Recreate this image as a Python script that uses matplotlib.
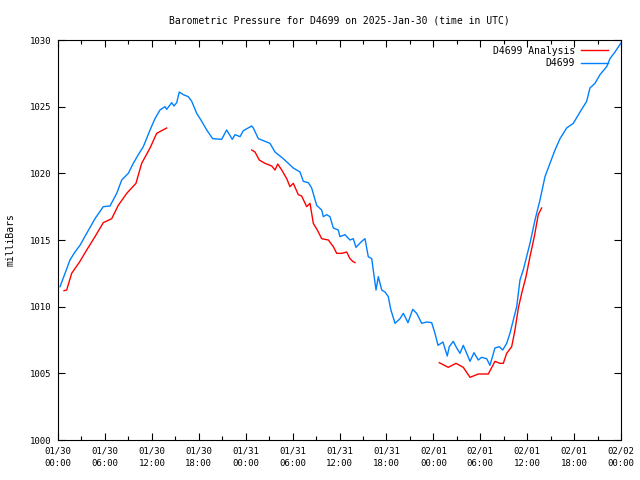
import matplotlib
matplotlib.use('Agg')
import matplotlib.pyplot as plt
import matplotlib.dates as mdates
import numpy as np
import pandas as pd

# hours since 2025-01-30 00:00 UTC and pressure in mbar
start = pd.Timestamp('2025-01-30 00:00')

obs_hours = [
    0.26, 0.9, 1.53, 2.17, 2.81, 3.67, 4.73, 5.79, 6.65, 7.51, 8.15, 8.99,
    9.63, 10.27, 10.91, 11.77, 12.4, 13.04, 13.68, 13.9, 14.54, 14.83, 15.18,
    15.51, 16.02, 16.66, 17.1, 17.74, 18.38, 19.02, 19.78, 20.93, 21.57,
    22.29, 22.64, 23.28, 23.7, 24.77, 24.98, 25.62, 26.05, 27.11, 27.75,
    28.81, 29.45, 30.09, 30.95, 31.37, 32.01, 32.44, 33.08, 33.72, 33.93,
    34.36, 34.78, 35.21, 35.84, 36.06, 36.7, 37.34, 37.76, 38.11, 38.84,
    39.26, 39.68, 40.12, 40.67, 40.96, 41.4, 41.82, 42.24, 42.55, 43.1,
    43.74, 44.16, 44.76, 45.36, 45.87, 46.51, 47.15, 47.79, 48.21, 48.6,
    49.23, 49.78, 50.04, 50.55, 50.99, 51.41, 51.83, 52.27, 52.69, 53.2,
    53.75, 54.18, 54.82, 55.24, 55.88, 56.43, 56.87, 57.38, 57.8, 58.23,
    58.66, 59.08, 59.5, 60.36, 61.0, 61.64, 62.28, 62.92, 63.56, 64.2,
    65.05, 65.9, 66.76, 67.61, 68.03, 68.67, 69.31, 70.17, 70.59, 71.23,
    71.96,
]
obs_mb = [
    1011.5, 1012.5, 1013.5, 1014.1, 1014.6, 1015.5, 1016.6, 1017.5, 1017.55,
    1018.5, 1019.5, 1020.0, 1020.75, 1021.4, 1022.0, 1023.25, 1024.1,
    1024.75, 1025.0, 1024.8, 1025.3, 1025.05, 1025.3, 1026.1, 1025.9,
    1025.75, 1025.4, 1024.5, 1023.9, 1023.25, 1022.6, 1022.55, 1023.25,
    1022.55, 1022.9, 1022.75, 1023.2, 1023.55, 1023.4, 1022.6, 1022.5,
    1022.25, 1021.6, 1021.1, 1020.75, 1020.4, 1020.1, 1019.4, 1019.3,
    1018.9, 1017.6, 1017.25, 1016.75, 1016.9, 1016.75, 1015.9, 1015.75,
    1015.25, 1015.4, 1015.0, 1015.1, 1014.45, 1014.9, 1015.1, 1013.75,
    1013.6, 1011.25, 1012.25, 1011.25, 1011.1, 1010.75, 1009.8, 1008.75,
    1009.1, 1009.5, 1008.8, 1009.8, 1009.5, 1008.75, 1008.85, 1008.8,
    1008.0, 1007.1, 1007.35, 1006.3, 1007.0, 1007.4, 1006.9, 1006.5,
    1007.1, 1006.5, 1005.9, 1006.55, 1006.0, 1006.2, 1006.1, 1005.6,
    1006.9, 1007.0, 1006.75, 1007.25, 1008.0, 1009.0, 1010.0, 1012.0,
    1012.75, 1014.75, 1016.5, 1018.0, 1019.75, 1020.75, 1021.75, 1022.6,
    1023.4, 1023.75, 1024.6, 1025.4, 1026.4, 1026.75, 1027.4, 1028.0,
    1028.6, 1029.1, 1029.75,
]

# analysis has gaps between runs (NaN breaks the line)
ana_hours = [
    0.77, 1.11, 1.75, 2.81, 3.67, 4.73, 5.79, 6.87, 7.71, 8.79, 9.97, 10.7,
    11.77, 12.62, 13.26, 13.9,
    19.0,
    24.77, 25.19, 25.74, 26.47, 27.33, 27.75, 28.1, 28.61, 29.25, 29.67,
    30.09, 30.73, 31.16, 31.8, 32.23, 32.65, 33.16, 33.72, 34.57, 35.21,
    35.64, 36.28, 36.92, 37.34, 37.69, 37.98,
    43.0,
    48.76, 49.91, 50.9, 51.83, 52.69, 53.75, 55.03, 55.88, 56.52, 56.95,
    57.38, 58.02, 58.44, 58.87, 59.3, 59.85, 60.36, 60.91, 61.42, 61.85,
]
ana_mb = [
    1011.2, 1011.25, 1012.5, 1013.4, 1014.25, 1015.25, 1016.3, 1016.6,
    1017.6, 1018.5, 1019.25, 1020.75, 1021.9, 1023.0, 1023.2, 1023.4,
    np.nan,
    1021.75, 1021.6, 1021.0, 1020.75, 1020.55, 1020.25, 1020.7, 1020.25,
    1019.6, 1019.0, 1019.25, 1018.4, 1018.3, 1017.5, 1017.75, 1016.25,
    1015.75, 1015.1, 1015.0, 1014.5, 1014.0, 1014.0, 1014.1, 1013.6,
    1013.4, 1013.3,
    np.nan,
    1005.8, 1005.45, 1005.75, 1005.45, 1004.7, 1004.95, 1004.95, 1005.9,
    1005.75, 1005.75, 1006.5, 1007.0, 1008.25, 1009.9, 1011.0, 1012.25,
    1013.75, 1015.25, 1016.9, 1017.4,
]

obs_t = start + pd.to_timedelta(obs_hours, unit='h')
ana_t = start + pd.to_timedelta(ana_hours, unit='h')

plt.rcParams['font.family'] = 'DejaVu Sans Mono'

fig = plt.figure(figsize=(6.4, 4.8), dpi=100)
ax = fig.add_axes([58 / 640, 40 / 480, 563 / 640, 400 / 480])

ax.plot(ana_t, ana_mb, color='#ff0000', lw=1, label='D4699 Analysis')
ax.plot(obs_t, obs_mb, color='#0080ff', lw=1, label='D4699')

ax.set_xlim(start, start + pd.Timedelta(hours=72))
ax.set_ylim(1000, 1030)
ax.set_yticks(np.arange(1000, 1031, 5))

ax.xaxis.set_major_locator(mdates.HourLocator(byhour=range(0, 24, 6)))
ax.xaxis.set_minor_locator(mdates.HourLocator(byhour=range(0, 24, 3)))
ax.xaxis.set_major_formatter(mdates.DateFormatter('%m/%d\n%H:%M'))

ax.tick_params(which='both', direction='in', top=True, right=True,
               labelsize=6.5, width=0.8, color='black')
ax.tick_params(which='major', length=5, pad=5)
ax.tick_params(which='minor', length=3)
for s in ax.spines.values():
    s.set_linewidth(0.8)

ax.set_ylabel('milliBars', fontsize=7)
ax.yaxis.set_label_coords(-0.075, 0.5)
ax.set_title('Barometric Pressure for D4699 on 2025-Jan-30 (time in UTC)',
             fontsize=7, pad=12)

ax.legend(loc='upper right', bbox_to_anchor=(1 - 6 / 563, 1 + 1 / 400),
          frameon=False, markerfirst=False, fontsize=7,
          handlelength=2.8, handletextpad=0.6, labelspacing=0.25,
          borderaxespad=0.3)

fig.canvas.draw()
for lab in ax.get_xticklabels():
    lab.set_linespacing(1.5)

fig.savefig('out.png', dpi=100)
